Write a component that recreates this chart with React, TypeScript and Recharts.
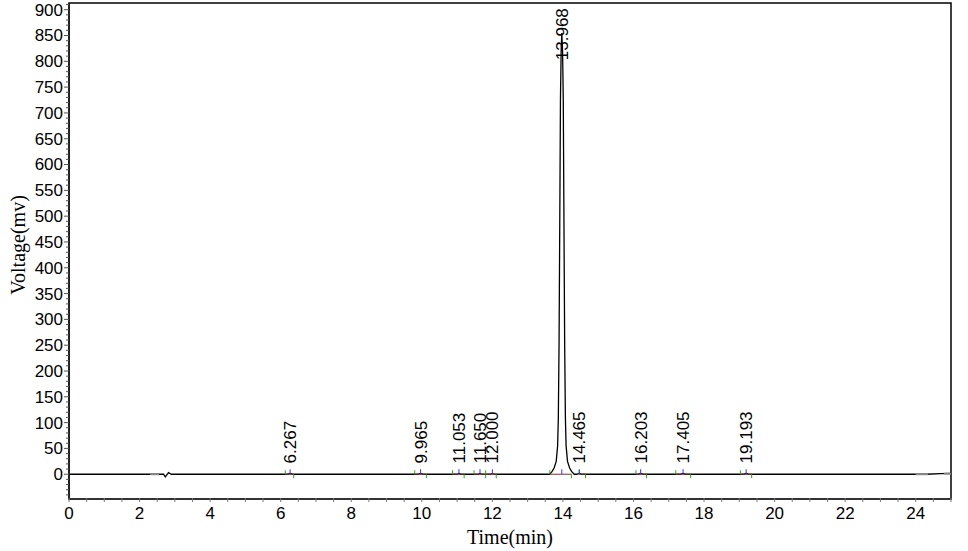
import React from 'react';
import {
  ComposedChart, Line, Scatter, XAxis, YAxis, ReferenceLine, ReferenceArea,
} from 'recharts';

// detector trace
const traceTime = [
  0, 2.3, 2.68, 2.73, 2.82, 2.9, 6.2, 6.267, 6.34, 9.9, 9.965, 10.03,
  11.0, 11.053, 11.11, 11.6, 11.65, 11.7, 11.95, 12.0, 12.05,
  13.62, 13.69, 13.75, 13.81, 13.85, 13.87, 13.89, 13.91, 13.93, 13.95, 13.968,
  13.99, 14.01, 14.03, 14.05, 14.07, 14.09, 14.13, 14.19, 14.25, 14.32,
  14.4, 14.465, 14.53, 16.14, 16.203, 16.27, 17.34, 17.405, 17.47,
  19.13, 19.193, 19.26, 24.3, 24.7, 25,
];
const traceVoltage = [
  0, 0, 0, -5, 3, 0, 0, 1.5, 0, 0, 1.5, 0,
  0, 1.5, 0, 0, 1.5, 0, 0, 1.5, 0,
  0, 5, 12, 25, 55, 110, 250, 480, 725, 820, 855,
  820, 725, 480, 250, 110, 55, 25, 12, 5, 0,
  0, 1.5, 0, 0, 1.5, 0, 0, 1.5, 0,
  0, 1.5, 0, 0, 1, 1.5,
];

// integrated peaks
const peakLabels = ['6.267', '9.965', '11.053', '11.650', '12.000', '13.968', '14.465', '16.203', '17.405', '19.193'];
const peakTimes = [6.267, 9.965, 11.053, 11.65, 12.0, 13.968, 14.465, 16.203, 17.405, 19.193];
const peakHeights = [1.5, 1.5, 1.5, 1.5, 1.5, 855, 1.5, 1.5, 1.5, 1.5];
const peakStarts = [6.13, 9.8, 10.87, 11.48, 11.81, 13.63, 14.46, 16.07, 17.2, 19.03];
const peakEnds = [6.37, 10.13, 11.2, 11.81, 12.11, 14.24, 14.64, 16.37, 17.62, 19.35];

// grey baseline marks
const baseMarkStart = [2.3, 24.0, 24.8];
const baseMarkEnd = [2.55, 24.35, 25];
const baseMarkLevel = [0, 0, 1];

const trace = traceTime.map((t, i) => ({ t, v: traceVoltage[i] }));
const peaks = peakTimes.map((t, i) => ({ t, v: peakHeights[i], label: peakLabels[i] }));
const apexMarks = peakTimes.map(t => ({ t, v: 0 }));
const startMarks = peakStarts.map(t => ({ t, v: 0 }));
const endMarks = peakEnds.map(t => ({ t, v: 0 }));

const xTicks = Array.from({ length: 51 }, (_, i) => i * 0.5);
const yTicks = Array.from({ length: 96 }, (_, i) => -40 + i * 10);

const SANS = '"Liberation Sans", Arial, sans-serif';
const SERIF = '"Liberation Serif", "Times New Roman", serif';
const PLOT_TOP = 3;

function XTick({ x, y, payload }: any) {
  const v = payload.value;
  const major = v % 2 === 0 && v < 25;
  return (
    <g>
      <line x1={x} x2={x} y1={y - 1} y2={y + 3} stroke="#777" strokeWidth={1} />
      {major && (
        <text x={x} y={y + 20} textAnchor="middle" fontSize={17} fontFamily={SANS} fill="#000">{v}</text>
      )}
    </g>
  );
}

function YTick({ x, y, payload }: any) {
  const v = payload.value;
  const major = v % 50 === 0 && v >= 0;
  return (
    <g>
      <line x1={x - (major ? 5 : 3)} x2={x} y1={y} y2={y} stroke="#555" strokeWidth={1} />
      {major && (
        <text x={x - 6} y={y} dy="0.35em" textAnchor="end" fontSize={17} fontFamily={SANS} fill="#000">{v}</text>
      )}
    </g>
  );
}

function YLabel({ viewBox }: any) {
  const cx = viewBox.x + 18;
  const cy = viewBox.y + viewBox.height / 2 - 6;
  return (
    <text x={cx} y={cy} transform={`rotate(-90 ${cx} ${cy})`} textAnchor="middle" dominantBaseline="central"
      fontSize={20} fontFamily={SERIF} fill="#000">Voltage(mv)</text>
  );
}

function XLabel({ viewBox }: any) {
  const cx = viewBox.x + viewBox.width / 2;
  const cy = viewBox.y + 38;
  return (
    <text x={cx} y={cy} textAnchor="middle" dominantBaseline="central" fontSize={20} fontFamily={SERIF} fill="#000">Time(min)</text>
  );
}

function PeakLabel(props: any) {
  const { cx, cy, payload } = props;
  const len = payload.label.length * 8.7;
  const start = Math.max(cy - 10, PLOT_TOP + 5 + len);
  return (
    <text x={cx} y={start} dy={6} transform={`rotate(-90 ${cx} ${start})`} textAnchor="start"
      fontSize={17} fontFamily={SANS} fill="#000">{payload.label}</text>
  );
}

const ApexTick = ({ cx, cy }: any) => <line x1={cx} x2={cx} y1={cy} y2={cy - 5} stroke="#3333ff" strokeWidth={1} />;
const StartTick = ({ cx, cy }: any) => <line x1={cx} x2={cx} y1={cy} y2={cy - 4} stroke="#22aa22" strokeWidth={1} />;
const EndTick = ({ cx, cy }: any) => <line x1={cx} x2={cx} y1={cy} y2={cy + 4} stroke="#22aa22" strokeWidth={1} />;

export default function App() {
  return (
    <div style={{ position: 'absolute', left: 0, top: 0, background: '#fff' }}>
      <ComposedChart width={968} height={551} data={trace} margin={{ top: PLOT_TOP, right: 17, bottom: 0, left: 0 }}>
        <XAxis dataKey="t" type="number" domain={[0, 25]} ticks={xTicks} interval={0} allowDataOverflow
          tickSize={0} tickMargin={0} tickLine={false} tick={<XTick />} height={52}
          axisLine={{ stroke: '#333', strokeWidth: 2 }} label={<XLabel />} />
        <YAxis type="number" domain={[-48, 913]} ticks={yTicks} interval={0} allowDataOverflow
          tickSize={0} tickMargin={0} tickLine={false} tick={<YTick />} width={69}
          axisLine={{ stroke: '#222', strokeWidth: 2 }} label={<YLabel />} />
        <ReferenceArea x1={0} x2={25} y1={-48} y2={913} fill="none" stroke="#000" strokeWidth={1.5} />
        <Line dataKey="v" type="linear" stroke="#000" strokeWidth={1.3} dot={false} isAnimationActive={false} />
        {baseMarkStart.map((s, i) => (
          <ReferenceLine key={'b' + i} segment={[{ x: s, y: baseMarkLevel[i] }, { x: baseMarkEnd[i], y: baseMarkLevel[i] }]}
            stroke="#888" strokeWidth={2} />
        ))}
        {peakStarts.map((s, i) => (
          <ReferenceLine key={'p' + i} segment={[{ x: s, y: 0 }, { x: peakEnds[i], y: 0 }]}
            stroke="#8b2a2a" strokeWidth={1} />
        ))}
        <Scatter data={startMarks} dataKey="v" shape={<StartTick />} isAnimationActive={false} />
        <Scatter data={endMarks} dataKey="v" shape={<EndTick />} isAnimationActive={false} />
        <Scatter data={apexMarks} dataKey="v" shape={<ApexTick />} isAnimationActive={false} />
        <Scatter data={peaks} dataKey="v" shape={<PeakLabel />} isAnimationActive={false} />
      </ComposedChart>
    </div>
  );
}
